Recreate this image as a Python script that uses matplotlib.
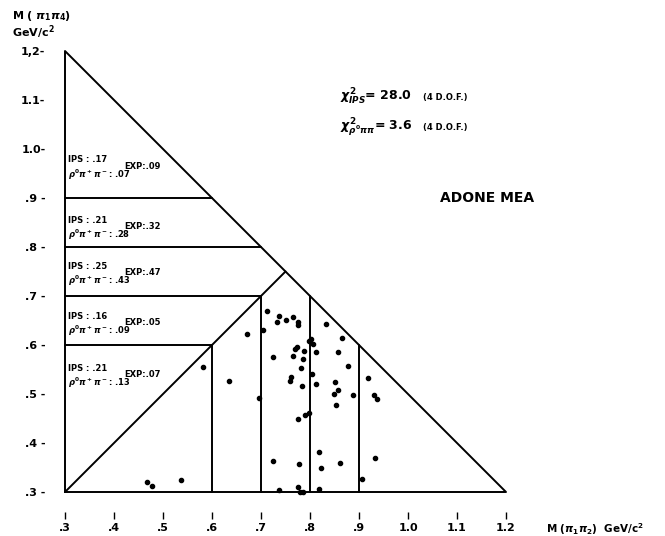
import numpy as np
import matplotlib
matplotlib.use('Agg')
import matplotlib.pyplot as plt

# kinematic limits [GeV]
m_min = 0.3
w_tot = 1.5
cuts = [0.6, 0.7, 0.8, 0.9]

# events: M(pi1 pi2), M(pi1 pi4)  [GeV/c^2]
m12 = [0.712, 0.737, 0.733, 0.750, 0.766, 0.775, 0.776, 0.705, 0.671, 0.833,
       0.797, 0.803, 0.807, 0.865, 0.773, 0.769, 0.787, 0.813, 0.858, 0.725,
       0.766, 0.786, 0.877, 0.781, 0.581, 0.805, 0.919, 0.761, 0.759, 0.634,
       0.813, 0.783, 0.850, 0.857, 0.848, 0.888, 0.931, 0.937, 0.853, 0.695,
       0.776, 0.790, 0.797, 0.818, 0.724, 0.777, 0.861, 0.933, 0.822, 0.906,
       0.737, 0.775, 0.818, 0.780, 0.786, 0.468, 0.478, 0.537]
m14 = [0.669, 0.660, 0.646, 0.652, 0.657, 0.647, 0.640, 0.630, 0.622, 0.642,
       0.609, 0.612, 0.602, 0.614, 0.595, 0.591, 0.588, 0.586, 0.586, 0.576,
       0.577, 0.571, 0.557, 0.553, 0.556, 0.541, 0.533, 0.535, 0.527, 0.526,
       0.520, 0.516, 0.525, 0.508, 0.501, 0.498, 0.498, 0.489, 0.478, 0.492,
       0.448, 0.457, 0.462, 0.382, 0.363, 0.358, 0.360, 0.370, 0.350, 0.327,
       0.304, 0.310, 0.306, 0.299, 0.299, 0.320, 0.312, 0.325]

# fractions per band (top to bottom)
ips = [0.17, 0.21, 0.25, 0.16, 0.21]
rho = [0.07, 0.28, 0.43, 0.09, 0.13]
exp = [0.09, 0.32, 0.47, 0.05, 0.07]
band_y = [0.978, 0.855, 0.761, 0.659, 0.553]

ticks = [0.3, 0.4, 0.5, 0.6, 0.7, 0.8, 0.9, 1.0, 1.1, 1.2]
xlabels = ['.3', '.4', '.5', '.6', '.7', '.8', '.9', '1.0', '1.1', '1.2']
ylabels = ['.3 -', '.4 -', '.5 -', '.6 -', '.7 -', '.8 -', '.9 -', '1.0-', '1.1-', '1,2-']


def fmt(v):
    return ('%.2f' % v).lstrip('0')


plt.rcParams.update({'font.family': 'DejaVu Sans', 'font.weight': 'bold'})
fig = plt.figure(figsize=(6.65, 5.36), dpi=100)
ax = fig.add_axes([65/665, 44/536, 441/665, 441/536])
ax.set_xlim(m_min, 1.2)
ax.set_ylim(m_min, 1.2)
for s in ax.spines.values():
    s.set_visible(False)

lw = 1.4
kw = dict(color='k', lw=lw, clip_on=False, solid_capstyle='round')
# boundary of the Dalitz triangle
top = w_tot - m_min
ax.plot([m_min, m_min, top, m_min], [m_min, top, m_min, m_min], **kw)
# diagonal M12 = M14
ax.plot([m_min, w_tot/2], [m_min, w_tot/2], **kw)
for c in cuts:
    end = min(c, w_tot - c)
    ax.plot([m_min, end], [c, c], **kw)
    ax.plot([c, c], [m_min, end], **kw)

ax.scatter(m12, m14, s=9, color='k', zorder=3, clip_on=False)

# y axis
ax.set_yticks(ticks)
ax.set_yticklabels(ylabels, fontsize=8, fontweight='bold')
ax.tick_params(axis='y', length=0, pad=14)
ax.set_xticks([])

# detached x axis
sec = ax.secondary_xaxis(-0.045)
sec.spines['bottom'].set_visible(False)
sec.set_xticks(ticks)
sec.set_xticklabels(xlabels, fontsize=8, fontweight='bold')
sec.tick_params(axis='x', length=5, width=1, direction='out', pad=3)

fig.text(12/665, 1 - 16/536, r'M ( $\pi_1\pi_4$)', fontsize=8, fontweight='bold', va='center')
fig.text(12/665, 1 - 32/536, r'GeV/c$^2$', fontsize=8, fontweight='bold', va='center')
fig.text(546/665, 1 - 529/536, r'M ($\pi_1\pi_2$)  GeV/c$^2$', fontsize=7.5,
         fontweight='bold', va='center')

# chi-square results
ax.text(0.861, 1.106, r'$\chi^2_{IPS}$= 28.0', fontsize=9, va='center')
ax.text(1.030, 1.106, '(4 D.O.F.)', fontsize=6, va='center')
ax.text(0.861, 1.043, r'$\chi^2_{\rho^0\pi\pi}$= 3.6', fontsize=9, va='center')
ax.text(1.030, 1.043, '(4 D.O.F.)', fontsize=6, va='center')
ax.text(1.065, 0.90, 'ADONE MEA', fontsize=10, va='center')

for i in range(len(ips)):
    y = band_y[i]
    ax.text(0.306, y, 'IPS : ' + fmt(ips[i]), fontsize=6, va='center')
    ax.text(0.306, y - 0.03, r'$\rho^0\pi^+\pi^-$: ' + fmt(rho[i]), fontsize=6, va='center')
    ax.text(0.42, y - 0.014, 'EXP:' + fmt(exp[i]), fontsize=6, va='center')

fig.savefig('out.png', dpi=100)
